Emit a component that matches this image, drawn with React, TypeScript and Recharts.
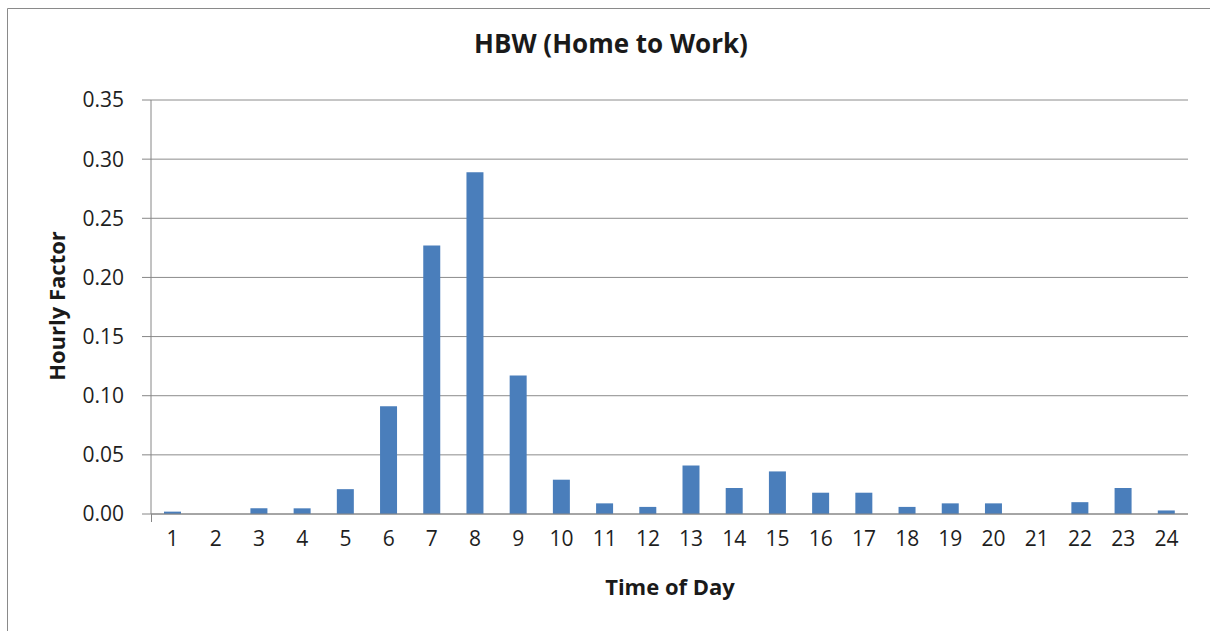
import React from "react";
import { BarChart, Bar, XAxis, YAxis, CartesianGrid } from "recharts";

const hours: string[] = ["1","2","3","4","5","6","7","8","9","10","11","12","13","14","15","16","17","18","19","20","21","22","23","24"];
const hourlyFactor: number[] = [0.002,0,0.0048,0.0048,0.021,0.091,0.227,0.289,0.117,0.029,0.009,0.006,0.041,0.022,0.036,0.018,0.018,0.006,0.009,0.009,0,0.010,0.022,0.003];
const yTicks: number[] = [0,0.05,0.1,0.15,0.2,0.25,0.3,0.35];

const titleText = "HBW (Home to Work)";
const xLabel = "Time of Day";
const yLabel = "Hourly Factor";

const data = hours.map((h, i) => ({ hour: h, value: hourlyFactor[i] }));

const FONT = "'Open Sans', 'Noto Sans', sans-serif";
const AXIS = "#868686";

export default function App() {
  return (
    <div style={{ position: "absolute", left: 0, top: 0, width: 1210, height: 631, background: "#fff", overflow: "hidden" }}>
      <div style={{ position: "absolute", left: 0, top: 0 }}>
        <BarChart width={1210} height={631} data={data} margin={{ top: 100, right: 22, left: 51, bottom: 87 }}>
          <CartesianGrid vertical={false} stroke="#8c8c8c" strokeWidth={1} />
          <XAxis
            dataKey="hour"
            height={30}
            tickLine={false}
            tickSize={0}
            tickMargin={17}
            axisLine={{ stroke: AXIS }}
            tick={{ fontSize: 21, fill: "#1e1e1e", fontFamily: FONT }}
            interval={0}
          />
          <YAxis
            width={100}
            domain={[0, 0.35]}
            ticks={yTicks}
            tickFormatter={(v: number) => v.toFixed(2)}
            tickSize={9}
            tickMargin={18}
            tickLine={{ stroke: AXIS }}
            axisLine={{ stroke: AXIS }}
            tick={{ fontSize: 21, fill: "#1e1e1e", fontFamily: FONT }}
            allowDataOverflow
          />
          <Bar dataKey="value" fill="#4A7EBB" barSize={17} isAnimationActive={false} />
        </BarChart>
      </div>
      <svg width={1210} height={631} style={{ position: "absolute", left: 0, top: 0, pointerEvents: "none" }}>
        <line x1={7.5} y1={8.5} x2={1210} y2={8.5} stroke="#8a8a8a" strokeWidth={1} />
        <line x1={7.5} y1={8.5} x2={7.5} y2={631} stroke="#8a8a8a" strokeWidth={1} />
        <text x={611} y={53} textAnchor="middle" fontFamily={FONT} fontWeight="bold" fontSize={26} fill="#1a1a1a">{titleText}</text>
        <text x={670} y={595} textAnchor="middle" fontFamily={FONT} fontWeight="bold" fontSize={22} fill="#1a1a1a">{xLabel}</text>
        <text x={65} y={306} transform="rotate(-90, 65, 306)" textAnchor="middle" fontFamily={FONT} fontWeight="bold" fontSize={22} fill="#1a1a1a">{yLabel}</text>
        <line x1={151.5} y1={514} x2={151.5} y2={522} stroke={AXIS} strokeWidth={1} />
      </svg>
    </div>
  );
}
